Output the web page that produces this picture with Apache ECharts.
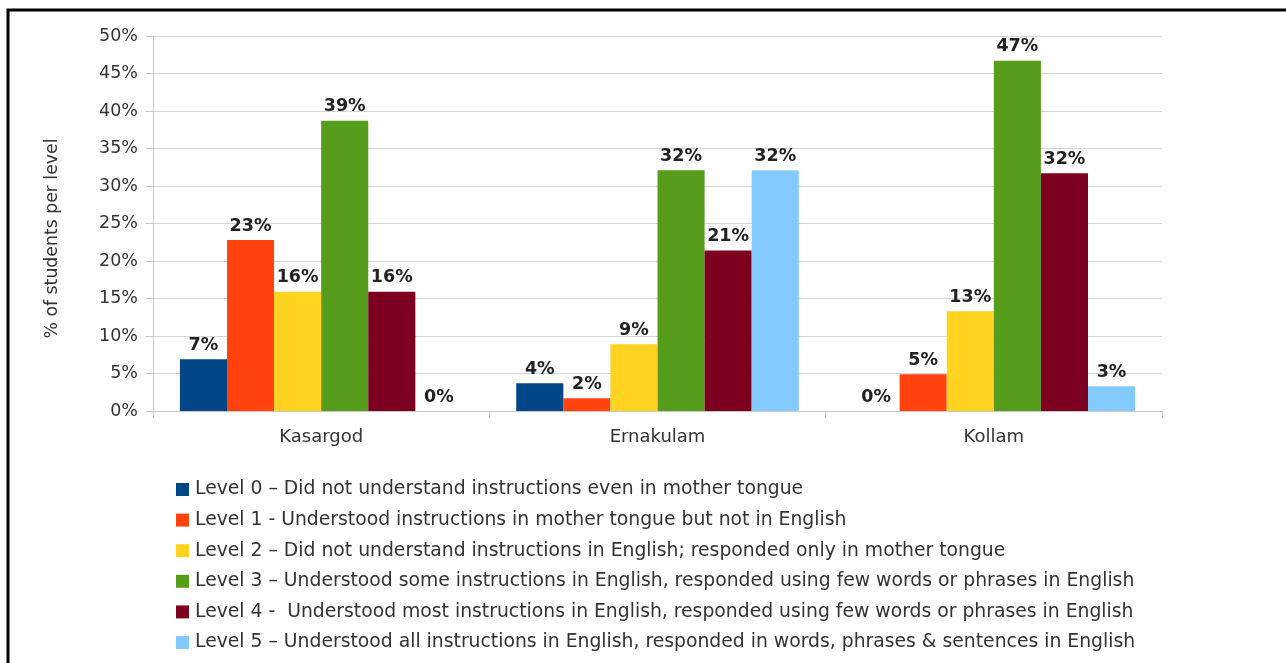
<!DOCTYPE html>
<html>
<head>
<meta charset="utf-8">
<script src="https://cdn.jsdelivr.net/npm/echarts@6/dist/echarts.min.js"></script>
<style>
html,body{margin:0;padding:0;background:#fff;}
#chart{width:1286px;height:663px;}
</style>
</head>
<body>
<div id="chart"></div>
<script>
// districts
var categories = ['Kasargod', 'Ernakulam', 'Kollam'];
// % of students per level, per district
var level0 = [6.9, 3.7, 0];
var level1 = [22.8, 1.7, 4.9];
var level2 = [15.9, 8.9, 13.3];
var level3 = [38.7, 32.1, 46.7];
var level4 = [15.9, 21.4, 31.7];
var level5 = [0, 32.1, 3.3];
var levelNames = [
	'Level 0 \u2013 Did not understand instructions even in mother tongue',
	'Level 1 - Understood instructions in mother tongue but not in English',
	'Level 2 \u2013 Did not understand instructions in English; responded only in mother tongue',
	'Level 3 \u2013 Understood some instructions in English, responded using few words or phrases in English',
	'Level 4 -  Understood most instructions in English, responded using few words or phrases in English',
	'Level 5 \u2013 Understood all instructions in English, responded in words, phrases & sentences in English'
];
var colors = ['#004586', '#ff420e', '#ffd320', '#579d1c', '#7e0021', '#83caff'];
var allLevels = [level0, level1, level2, level3, level4, level5];

var myChart = echarts.init(document.getElementById('chart'));
var series = [];
for (var i = 0; i < allLevels.length; i++) {
	series.push({
		name: levelNames[i],
		type: 'bar',
		data: allLevels[i],
		barGap: 0,
		barCategoryGap: '16%',
		itemStyle: {color: colors[i]},
		label: {
			show: true,
			position: 'top',
			distance: 5,
			fontFamily: 'DejaVu Sans',
			fontSize: 17.5,
			fontWeight: 'bold',
			color: '#222',
			formatter: function (p) { return Math.round(p.value) + '%'; }
		}
	});
}

var option = {
	animation: false,
	color: colors,
	textStyle: {fontFamily: 'DejaVu Sans'},
	graphic: [{
		type: 'rect',
		shape: {x: 8, y: 10, width: 1300, height: 680},
		style: {fill: 'none', stroke: '#000', lineWidth: 3},
		silent: true
	}],
	grid: {left: 153, right: 124, top: 36, bottom: 252},
	legend: {
		orient: 'vertical',
		left: 171,
		top: 475,
		height: 200,
		itemWidth: 13,
		itemHeight: 13,
		itemGap: 11.6,
		icon: 'rect',
		textStyle: {fontSize: 18.8, color: '#333', fontFamily: 'DejaVu Sans', padding: [0, 0, 0, 1]},
		data: levelNames
	},
	xAxis: {
		type: 'category',
		data: categories,
		axisLine: {show: true, lineStyle: {color: '#c8c8c8'}},
		axisTick: {show: true, length: 7, lineStyle: {color: '#c8c8c8'}},
		axisLabel: {fontSize: 18, color: '#333', margin: 17}
	},
	yAxis: {
		type: 'value',
		min: 0,
		max: 50,
		interval: 5,
		name: '% of students per level',
		nameLocation: 'middle',
		nameGap: 92,
		nameRotate: 90,
		nameTextStyle: {fontSize: 17.3, color: '#333', padding: [0, 30, 0, 0]},
		axisLine: {show: true, lineStyle: {color: '#c8c8c8'}},
		axisTick: {show: true, length: 7, lineStyle: {color: '#c8c8c8'}},
		axisLabel: {fontSize: 17.5, color: '#333', margin: 15, formatter: '{value}%'},
		splitLine: {lineStyle: {color: '#d4d4d4', width: 1}}
	},
	series: series
};
myChart.setOption(option, true);
</script>
</body>
</html>
